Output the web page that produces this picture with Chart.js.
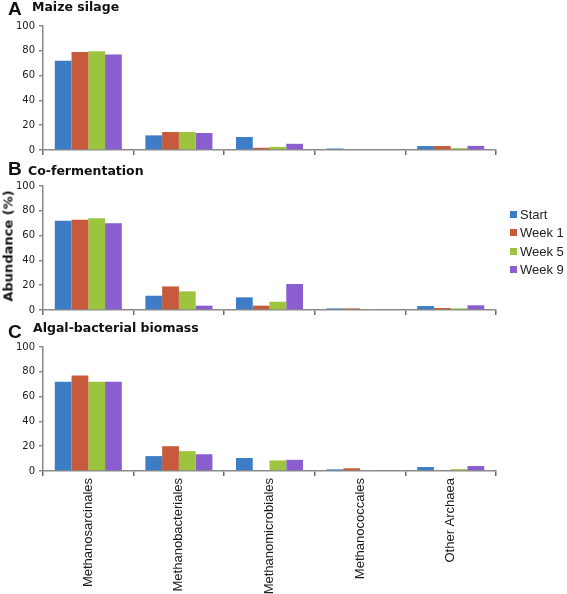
<!DOCTYPE html>
<html>
<head>
<meta charset="utf-8">
<script src="https://cdn.jsdelivr.net/npm/chart.js@4/dist/chart.umd.min.js"></script>
<style>
  html, body { margin:0; padding:0; background:#fff; }
  body { width:567px; height:594px; position:relative; overflow:hidden; }
  canvas { position:absolute; left:0; }
  .lbl { position:absolute; white-space:nowrap; color:#111; }
  .big { font-family:"Liberation Sans", Arial, sans-serif; font-weight:bold; font-size:19px; line-height:19px; }
  .ttl { font-family:"DejaVu Sans", sans-serif; font-weight:bold; font-size:12.5px; line-height:14px; }
  .leg { position:absolute; left:510px; font-family:"Liberation Sans Narrow","Liberation Sans",Arial,sans-serif; font-size:13px; color:#222; line-height:14px; white-space:nowrap; }
  .leg span.sw { display:inline-block; width:7px; height:7px; margin-right:3px; vertical-align:1px; }
</style>
</head>
<body>
<canvas id="cA" width="567" height="160" style="top:0px"></canvas>
<canvas id="cB" width="567" height="160" style="top:160px"></canvas>
<canvas id="cC" width="567" height="273" style="top:321px"></canvas>

<div class="lbl big" style="left:8px;top:-1px">A</div>
<div class="lbl ttl" style="left:32px;top:0px">Maize silage</div>
<div class="lbl big" style="left:8px;top:159px">B</div>
<div class="lbl ttl" style="left:28px;top:164px">Co-fermentation</div>
<div class="lbl big" style="left:8px;top:322px">C</div>
<div class="lbl ttl" style="left:33px;top:321px">Algal-bacterial biomass</div>

<div class="lbl" style="left:8px;top:246px;font-family:'DejaVu Sans',sans-serif;font-weight:bold;font-size:13px;color:#111;transform:translate(-50%,-50%) rotate(-90deg);">Abundance (%)</div>

<div id="legend"></div>

<script>
const categories = ['Methanosarcinales', 'Methanobacteriales', 'Methanomicrobiales', 'Methanococcales', 'Other Archaea'];
const seriesNames = ['Start', 'Week 1', 'Week 5', 'Week 9'];
const seriesColors = ['#3D7DC6', '#C75A3A', '#9CC43E', '#8B5ECF'];
const yTicks = [0, 20, 40, 60, 80, 100];

const maizeStart = [72, 11.8, 10.5, 1.2, 3.2];
const maizeWeek1 = [79, 14.5, 1.8, 0, 3.2];
const maizeWeek5 = [79.6, 14.5, 2.5, 0, 1.5];
const maizeWeek9 = [77, 13.7, 5, 0, 3.3];

const coStart = [72, 11.5, 10.2, 1.3, 3.2];
const coWeek1 = [72.8, 19, 3.5, 1.3, 1.6];
const coWeek5 = [74, 15, 6.7, 0.5, 1.3];
const coWeek9 = [70, 3.5, 21, 0, 3.8];

const algStart = [72, 12, 10.5, 1.3, 3.2];
const algWeek1 = [77, 20, 0, 2.2, 0];
const algWeek5 = [72, 16, 8.5, 0.5, 1.5];
const algWeek9 = [72, 13.5, 9, 0, 4];

Chart.defaults.animation = false;

function makeChart(id, seriesData, showLabels, xHeight) {
  const ctx = document.getElementById(id);
  return new Chart(ctx, {
    type: 'bar',
    data: {
      labels: categories,
      datasets: seriesData.map((d, i) => ({
        label: seriesNames[i],
        data: d,
        backgroundColor: seriesColors[i],
        borderWidth: 0,
        categoryPercentage: 0.74,
        barPercentage: 1.0
      }))
    },
    options: {
      responsive: false,
      devicePixelRatio: 1,
      animation: false,
      layout: { padding: { top: 26, left: 0, right: 71, bottom: 0 } },
      plugins: { legend: { display: false }, tooltip: { enabled: false }, title: { display: false } },
      scales: {
        x: {
          offset: true,
          border: { display: true, color: '#8a8a8a', width: 1.5 },
          grid: { display: true, offset: true, drawOnChartArea: false, drawTicks: true, tickLength: 5, color: '#6a6a6a', lineWidth: 1.5 },
          ticks: {
            display: showLabels,
            autoSkip: false,
            minRotation: 90,
            maxRotation: 90,
            padding: 2,
            color: '#1a1a1a',
            font: { family: '"Liberation Sans", Arial, sans-serif', size: 13 }
          },
          afterFit: s => { s.height = xHeight; }
        },
        y: {
          min: 0,
          max: 100,
          afterBuildTicks: s => { s.ticks = yTicks.map(v => ({ value: v })); },
          border: { display: true, color: '#8a8a8a', width: 1.5 },
          grid: { display: true, drawOnChartArea: false, drawTicks: true, tickLength: 4, color: '#8a8a8a', lineWidth: 1.5 },
          ticks: {
            padding: 4,
            color: '#1a1a1a',
            font: { family: '"DejaVu Sans", sans-serif', size: 10 }
          },
          afterFit: s => { s.width = 43; }
        }
      }
    }
  });
}

makeChart('cA', [maizeStart, maizeWeek1, maizeWeek5, maizeWeek9], false, 10);
makeChart('cB', [coStart, coWeek1, coWeek5, coWeek9], false, 10);
makeChart('cC', [algStart, algWeek1, algWeek5, algWeek9], true, 123);

const legendTops = [208, 226, 245, 263];
const legend = document.getElementById('legend');
seriesNames.forEach((n, i) => {
  const d = document.createElement('div');
  d.className = 'leg';
  d.style.top = legendTops[i] + 'px';
  d.innerHTML = '<span class="sw" style="background:' + seriesColors[i] + '"></span>' + n;
  legend.appendChild(d);
});
</script>
</body>
</html>
